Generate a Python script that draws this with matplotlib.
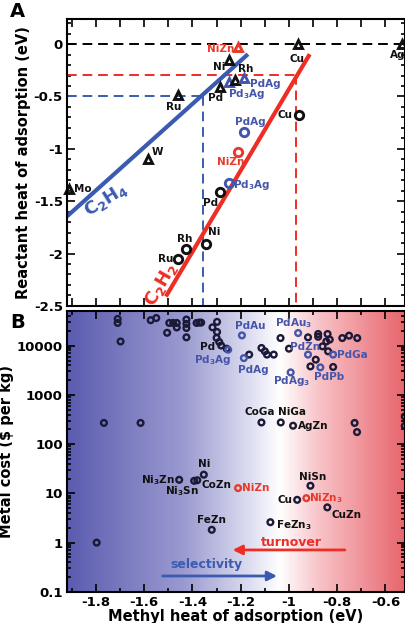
import numpy as np
import matplotlib
matplotlib.use("Agg")
import matplotlib.pyplot as plt
from matplotlib.colors import LinearSegmentedColormap
from matplotlib.ticker import MultipleLocator, FuncFormatter, LogLocator

# ---------------- panel A data ----------------
# C2H4 (triangles)
tri_names = ["Mo", "W", "Ru", "Pd", "Pd$_3$Ag", "Rh", "PdAg", "Ni", "NiZn", "Cu", "Ag"]
tri_x = [-1.91, -1.585, -1.46, -1.287, -1.249, -1.224, -1.187, -1.249, -1.21, -0.964, -0.53]
tri_y = [-1.38, -1.10, -0.49, -0.41, -0.36, -0.34, -0.32, -0.15, -0.03, 0.0, 0.0]
tri_col = ["k", "k", "k", "k", "b", "k", "b", "k", "r", "k", "k"]

# C2H2 (circles)
cir_names = ["Cu", "PdAg", "NiZn", "Pd$_3$Ag", "Pd", "Ni", "Rh", "Ru"]
cir_x = [-0.96, -1.187, -1.21, -1.249, -1.287, -1.345, -1.427, -1.46]
cir_y = [-0.68, -0.84, -1.03, -1.33, -1.415, -1.91, -1.96, -2.05]
cir_col = ["k", "b", "r", "b", "k", "k", "k", "k"]

# scaling lines (x ends, y ends)
c2h4_x = [-1.92, -1.17]
c2h4_y = [-1.645, -0.096]
c2h2_x = [-1.51, -0.914]
c2h2_y = [-2.41, -0.096]

# dashed guide lines: level and crossing
blue_level, blue_cross = -0.50, -1.357
red_level, red_cross = -0.295, -0.972

# ---------------- panel B data ----------------
plain_x = [-1.71, -1.71, -1.698, -1.573, -1.55, -1.505, -1.496, -1.48, -1.465, -1.465,
           -1.425, -1.425, -1.425, -1.425, -1.383, -1.372, -1.364, -1.317, -1.298, -1.298,
           -1.30, -1.289, -1.258, -1.165, -1.114, -1.10, -1.091, -1.063, -1.035, -1.0,
           -0.921, -0.879, -0.879, -0.84, -0.831, -0.845, -0.861, -0.838, -0.889, -0.911,
           -0.817, -0.779, -0.751, -0.717, -1.767, -1.615, -0.728, -0.718, -0.52, -0.52,
           -1.797]
plain_y = [35000, 29000, 12200, 33000, 36500, 18300, 29000, 29000, 29000, 23500,
           34000, 27800, 22900, 14800, 29000, 29500, 29500, 23600, 30500, 19000,
           14400, 11900, 8700, 6600, 9000, 7700, 6600, 6600, 14300, 8700,
           14800, 17300, 15200, 17300, 13300, 12200, 9700, 7700, 5200, 3800,
           3700, 14300, 16000, 14300, 270, 270, 270, 176, 365, 235,
           1.0]

lab_names = ["Pd", "CoGa", "NiGa", "AgZn", "Ni", "Ni$_3$Zn", "Ni$_3$Sn", "CoZn", "NiSn",
             "Cu", "CuZn", "FeZn$_3$", "FeZn",
             "Pd$_3$Ag", "PdAu", "PdAg", "PdAu$_3$", "PdAg$_3$", "PdZn", "PdGa", "PdPb",
             "NiZn", "NiZn$_3$"]
lab_x = [-1.281, -1.114, -1.034, -0.983, -1.353, -1.455, -1.393, -1.38, -0.911,
         -0.966, -0.841, -1.077, -1.32,
         -1.252, -1.195, -1.187, -0.962, -0.993, -0.921, -0.817, -0.87,
         -1.211, -0.928]
lab_y = [10100, 276, 276, 237, 24, 18.9, 18, 18.5, 14.3,
         7.4, 5.2, 2.6, 1.82,
         8300, 16200, 5600, 18100, 2870, 6600, 6600, 3630,
         12.8, 8.0]
lab_col = ["k"] * 13 + ["b"] * 8 + ["r"] * 2

# ---------------- styling ----------------
C = {"k": "#111111", "b": "#4455aa", "r": "#e83a2a"}
line_blue = "#3a5bb0"
line_red = "#ee2d24"
plt.rcParams["font.family"] = "DejaVu Sans"
plt.rcParams["font.weight"] = "bold"
plt.rcParams["mathtext.default"] = "regular"

# label offsets in pixels (dx, dy, ha)
tri_off = [(5, 0, "left"), (4, 7, "left"), (-4, -12, "center"), (-4, -11, "center"),
           (-1, -12, "left"), (3, 11, "left"), (6, -6, "left"), (-4, -7, "right"),
           (-4, -2, "right"), (-1, -15, "center"), (-5, -11, "center")]
cir_off = [(-6, 0, "right"), (6, 10, "center"), (-8, -10, "center"), (4, -2, "left"),
           (-9, -11, "center"), (2, 12, "left"), (-1, 10, "center"), (-5, 0, "right")]
lab_off = [(-6, -2, "right"), (-2, 10, "center"), (11, 10, "center"), (5, 0, "left"),
           (0, 11, "center"), (-4, 0, "right"), (-12, -10, "center"), (4, -5, "left"),
           (2, 9, "center"), (-5, 0, "right"), (4, -8, "left"), (6, -3, "left"),
           (0, 10, "center"),
           (3, -10, "right"), (8, 9, "center"), (9, -12, "center"), (-5, 10, "center"),
           (1, -9, "center"), (-3, 8, "center"), (4, 0, "left"), (9, -10, "center"),
           (4, 0, "left"), (3, 0, "left")]

fig = plt.figure(figsize=(4.06, 6.23), dpi=100)
axA = fig.add_axes([0.165, 0.509, 0.832, 0.4605])
axB = fig.add_axes([0.165, 0.050, 0.832, 0.451])
xlim = (-1.92, -0.52)

# ---- panel A ----
axA.set_xlim(xlim)
axA.set_ylim(-2.5, 0.24)
axA.axhline(0, color="k", ls=(0, (5, 3)), lw=1.4, zorder=1)
axA.plot([xlim[0], blue_cross], [blue_level, blue_level], color=line_blue, ls=(0, (5, 3)), lw=1.4)
axA.plot([blue_cross, blue_cross], [blue_level, -2.5], color=line_blue, ls=(0, (5, 3)), lw=1.4)
axA.plot([xlim[0], red_cross], [red_level, red_level], color=line_red, ls=(0, (5, 3)), lw=1.4)
axA.plot([red_cross, red_cross], [red_level, -2.5], color=line_red, ls=(0, (5, 3)), lw=1.4)
axA.plot(c2h4_x, c2h4_y, color=line_blue, lw=3, solid_capstyle="butt")
axA.plot(c2h2_x, c2h2_y, color=line_red, lw=3, solid_capstyle="butt")

for n, x, y, c, (dx, dy, ha) in zip(tri_names, tri_x, tri_y, tri_col, tri_off):
    axA.plot(x, y, marker="^", ms=6, mfc="none", mec=C[c], mew=2.1, zorder=4, clip_on=False)
    axA.annotate(n, (x, y), xytext=(dx, dy), textcoords="offset pixels", ha=ha, va="center",
                 fontsize=7.5, color=C[c], fontweight="bold", annotation_clip=False)
for n, x, y, c, (dx, dy, ha) in zip(cir_names, cir_x, cir_y, cir_col, cir_off):
    axA.plot(x, y, marker="o", ms=6, mfc="none", mec=C[c], mew=2.1, zorder=4)
    axA.annotate(n, (x, y), xytext=(dx, dy), textcoords="offset pixels", ha=ha, va="center",
                 fontsize=7.5, color=C[c], fontweight="bold")

axA.text(-1.76, -1.49, "C$_2$H$_4$", color=line_blue, fontsize=13, rotation=32,
         ha="center", va="center")
axA.text(-1.53, -2.29, "C$_2$H$_2$", color=line_red, fontsize=13, rotation=60,
         ha="center", va="center")

axA.yaxis.set_major_locator(MultipleLocator(0.5))
axA.yaxis.set_minor_locator(MultipleLocator(0.1))
axA.xaxis.set_major_locator(MultipleLocator(0.1))
axA.yaxis.set_major_formatter(FuncFormatter(lambda v, p: "%g" % round(v, 2)))
axA.tick_params(axis="x", labelbottom=False)
axA.set_ylabel("Reactant heat of adsorption (eV)", fontsize=10.5, fontweight="bold", labelpad=2)

# ---- panel B ----
axB.set_xlim(xlim)
axB.set_yscale("log")
axB.set_ylim(0.1, 5.1e4)
cmap = LinearSegmentedColormap.from_list("bw", [
    (0.0, (0.36, 0.36, 0.69)), (0.35, (0.61, 0.61, 0.82)), (0.55, (0.88, 0.88, 0.95)),
    (0.63, (1.0, 1.0, 1.0)), (0.75, (0.97, 0.76, 0.78)), (1.0, (0.91, 0.40, 0.43))])
grad = np.linspace(0, 1, 400).reshape(1, -1)
axB.imshow(grad, extent=[0, 1, 0, 1], transform=axB.transAxes, aspect="auto",
           cmap=cmap, zorder=0)

axB.scatter(plain_x, plain_y, s=17, facecolors="none", edgecolors="#1a1a38",
            linewidths=1.7, zorder=3, clip_on=False)
for n, x, y, c, (dx, dy, ha) in zip(lab_names, lab_x, lab_y, lab_col, lab_off):
    ec = "#1a1a38" if c == "k" else C[c]
    axB.scatter([x], [y], s=17, facecolors="none", edgecolors=ec, linewidths=1.7, zorder=3)
    axB.annotate(n, (x, y), xytext=(dx, dy), textcoords="offset pixels", ha=ha, va="center",
                 fontsize=7.5, color=C[c], fontweight="bold")

axB.annotate("", xy=(-1.245, 0.71), xytext=(-0.757, 0.71),
             arrowprops=dict(arrowstyle="-|>", color=line_red, lw=2, mutation_scale=14))
axB.text(-0.99, 1.0, "turnover", color=line_red, fontsize=9, ha="center", va="center")
axB.annotate("", xy=(-1.038, 0.21), xytext=(-1.535, 0.21),
             arrowprops=dict(arrowstyle="-|>", color=line_blue, lw=2, mutation_scale=14))
axB.text(-1.342, 0.355, "selectivity", color=line_blue, fontsize=9, ha="center", va="center")

axB.xaxis.set_major_locator(MultipleLocator(0.2))
axB.xaxis.set_minor_locator(MultipleLocator(0.1))
axB.xaxis.set_major_formatter(FuncFormatter(lambda v, p: "%g" % round(v, 2)))
axB.yaxis.set_major_locator(LogLocator(base=10, numticks=10))
axB.yaxis.set_minor_locator(LogLocator(base=10, subs=np.arange(2, 10), numticks=10))
axB.yaxis.set_major_formatter(FuncFormatter(lambda v, p: "%g" % v))
axB.set_ylabel("Metal cost ($ per kg)", fontsize=10.5, fontweight="bold", labelpad=2)
axB.set_xlabel("Methyl heat of adsorption (eV)", fontsize=10.5, fontweight="bold", labelpad=0)

for ax in (axA, axB):
    for s in ax.spines.values():
        s.set_linewidth(1.5)
        s.set_zorder(5)
    ax.tick_params(which="both", direction="in", top=True, right=True, labelsize=9.5,
                   width=1.2, pad=3)
    ax.tick_params(which="major", length=6)
    ax.tick_params(which="minor", length=3)
    for t in ax.get_yticklabels() + ax.get_xticklabels():
        t.set_fontweight("bold")

fig.text(0.025, 0.982, "A", fontsize=14, fontweight="bold", va="center")
fig.text(0.025, 0.483, "B", fontsize=14, fontweight="bold", va="center")

fig.savefig("out.png", dpi=100)
